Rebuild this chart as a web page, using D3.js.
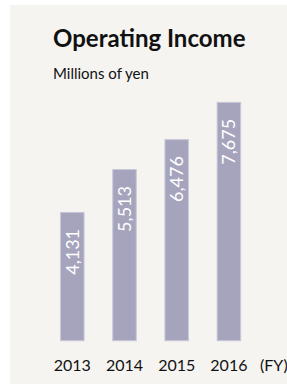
<!DOCTYPE html>
<html>
<head>
<meta charset="utf-8">
<script src="https://cdn.jsdelivr.net/npm/d3@7"></script>
<style>
  html, body { margin: 0; padding: 0; background: #ffffff; }
  svg { display: block; font-family: Lato, "Open Sans", sans-serif; }
</style>
</head>
<body>
<div class="chart"></div>
<script>
const years = ["2013", "2014", "2015", "2016"];
const income = [4131, 5513, 6476, 7675];
const yDomain = [0, 8000];

const width = 287;
const height = 385;

const svg = d3
  .select(".chart")
  .append("svg")
  .attr("width", width)
  .attr("height", height);

// panel background
svg
  .append("rect")
  .attr("x", 10)
  .attr("y", 5)
  .attr("width", width - 10)
  .attr("height", 379)
  .attr("fill", "#f5f4f1");

svg
  .append("text")
  .attr("x", 53)
  .attr("y", 47)
  .attr("font-size", 24)
  .attr("font-weight", "bold")
  .attr("fill", "#111")
  .text("Operating Income");

svg
  .append("text")
  .attr("x", 53)
  .attr("y", 79)
  .attr("font-size", 15)
  .attr("fill", "#111")
  .text("Millions of yen");

const x = d3
  .scaleBand()
  .domain(years)
  .range([46.2, 255])
  .paddingInner(0.55)
  .paddingOuter(0.275);

const y = d3.scaleLinear().domain(yDomain).range([340.7, 92.3]);

const bars = svg
  .append("g")
  .selectAll("g")
  .data(years.map((yr, i) => ({ yr, v: income[i] })))
  .join("g");

bars
  .append("rect")
  .attr("x", (d) => x(d.yr))
  .attr("y", (d) => y(d.v))
  .attr("width", x.bandwidth())
  .attr("height", (d) => y(0) - y(d.v))
  .attr("fill", "#a6a4bd")
  .attr("stroke", "#c9c7d8")
  .attr("stroke-width", 1);

bars
  .append("text")
  .attr("transform", (d) => {
    const cx = x(d.yr) + x.bandwidth() / 2;
    const ty = y(d.v) + 16.5;
    return `translate(${cx},${ty}) rotate(-90)`;
  })
  .attr("text-anchor", "end")
  .attr("dy", "0.36em")
  .attr("font-size", 18)
  .attr("fill", "#ffffff")
  .text((d) => d3.format(",")(d.v));

const axis = svg
  .append("g")
  .attr("transform", "translate(0,371)")
  .call(d3.axisBottom(x).tickSize(0).tickPadding(0));

axis.select(".domain").remove();
axis
  .selectAll("text")
  .attr("dy", 0)
  .attr("font-size", 16)
  .attr("font-family", "Lato, sans-serif")
  .attr("fill", "#111");

svg
  .append("text")
  .attr("x", 260)
  .attr("y", 371)
  .attr("font-size", 16)
  .attr("fill", "#111")
  .text("(FY)");
</script>
</body>
</html>
